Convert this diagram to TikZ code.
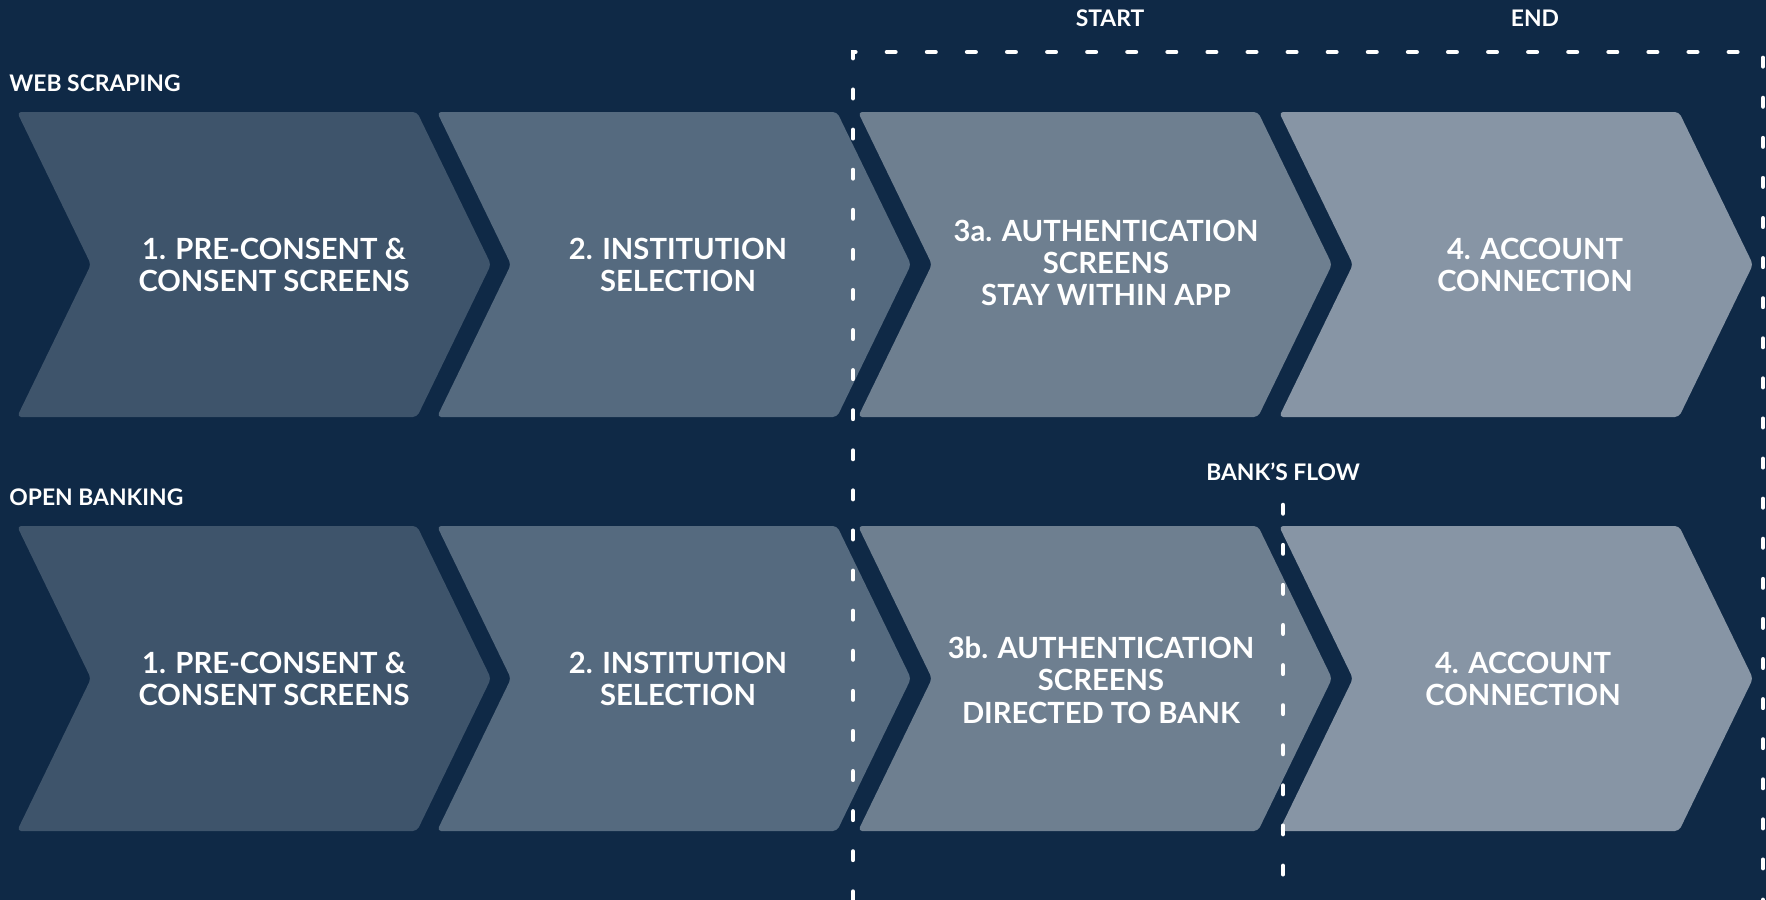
\documentclass[tikz,border=0pt]{standalone}
\usepackage{fontspec}
\setmainfont{Lato}

\definecolor{navy}{HTML}{0F2946}
\definecolor{stepA}{HTML}{3E546B}
\definecolor{stepB}{HTML}{556A7F}
\definecolor{stepC}{HTML}{6E7F90}
\definecolor{stepD}{HTML}{8795A5}

\tikzset{
  steptext/.style={text=white, align=center, font=\bfseries\fontsize{8.3}{9.2}\selectfont},
  rowlabel/.style={text=white, font=\bfseries\fontsize{6.5}{7.5}\selectfont},
  bounds/.style={white, line width=1.3pt, line cap=round, dash pattern=on 2.4pt off 9pt},
}

\begin{document}
\begin{tikzpicture}[x=0.01cm, y=-0.01cm]
\fill[navy] (0,0) rectangle (1766,900);
\useasboundingbox (0,0) rectangle (1766,900);

% chevrons: top-left x, top y, colour
\foreach \x/\c in {17/stepA, 437/stepB, 858/stepC, 1279/stepD}{
  \foreach \y in {112, 526}{
    \fill[\c, rounded corners=1.2pt] (\x,\y) -- ++(400,0) -- ++(74,152.5) -- ++(-74,152.5)
      -- ++(-400,0) -- ++(74,-152.5) -- cycle;
  }
}

%	web scraping row
\node[steptext] (ws1) at (274,265) {1. PRE-CONSENT \&\\CONSENT SCREENS};
\node[steptext] (ws2) at (678,265) {2. INSTITUTION\\SELECTION};
\node[steptext] (ws3) at (1106,263) {3a. AUTHENTICATION\\SCREENS\\STAY WITHIN APP};
\node[steptext] (ws4) at (1535,265) {4. ACCOUNT\\CONNECTION};

%	open banking row
\node[steptext] (ob1) at (274,679) {1. PRE-CONSENT \&\\CONSENT SCREENS};
\node[steptext] (ob2) at (678,679) {2. INSTITUTION\\SELECTION};
\node[steptext] (ob3) at (1101,680) {3b. AUTHENTICATION\\SCREENS\\DIRECTED TO BANK};
\node[steptext] (ob4) at (1523,679) {4. ACCOUNT\\CONNECTION};

\node[rowlabel, anchor=west] (web) at (-3,83) {WEB SCRAPING};
\node[rowlabel, anchor=west] (open) at (-3,497) {OPEN BANKING};
\node[rowlabel] (start) at (1110,18) {START};
\node[rowlabel] (end) at (1535,18) {END};
\node[rowlabel] (bank) at (1283,472) {BANK’S FLOW};

% dashed frames
\coordinate (f1) at (853,900);
\coordinate (f2) at (853,52);
\coordinate (f3) at (1763,52);
\coordinate (f4) at (1763,900);
\coordinate (b1) at (1283,505);
\coordinate (b2) at (1283,900);
\draw[bounds] (f1) -- (f2) -- (f3) -- (f4);
\draw[bounds] (b1) -- (b2);

\end{tikzpicture}
\end{document}
